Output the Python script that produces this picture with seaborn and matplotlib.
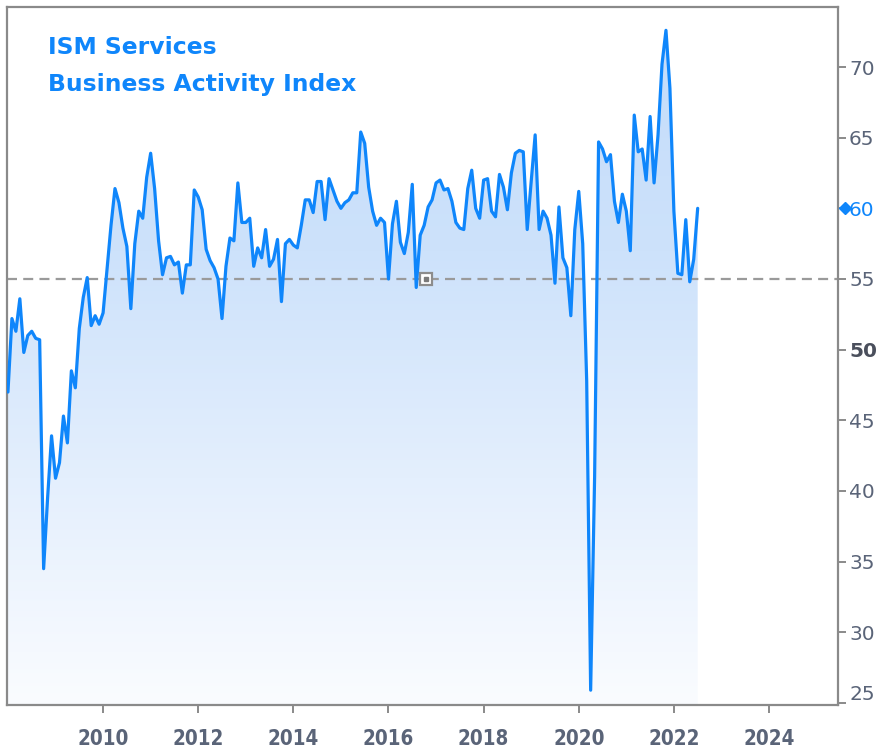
import numpy as np
import pandas as pd
import matplotlib
matplotlib.use("Agg")
import matplotlib.pyplot as plt
import seaborn as sns
from matplotlib.colors import LinearSegmentedColormap
from matplotlib import font_manager
from matplotlib.font_manager import FontProperties
from matplotlib.transforms import ScaledTranslation

# ---------------- data ----------------
values = [
    # 2008
    47.0, 52.2, 51.3, 53.6, 49.8, 51.0, 51.3, 50.8, 50.7, 34.5, 39.5, 43.9,
    # 2009
    40.9, 42.0, 45.3, 43.4, 48.5, 47.3, 51.5, 53.7, 55.1, 51.7, 52.4, 51.8,
    # 2010
    52.6, 55.7, 58.8, 61.4, 60.4, 58.6, 57.3, 52.9, 57.5, 59.8, 59.3, 62.2,
    # 2011
    63.9, 61.4, 57.7, 55.3, 56.5, 56.6, 56.0, 56.2, 54.0, 56.0, 56.0, 61.3,
    # 2012
    60.8, 59.9, 57.1, 56.3, 55.8, 55.0, 52.2, 55.9, 57.9, 57.7, 61.8, 59.0,
    # 2013
    59.0, 59.3, 55.9, 57.2, 56.5, 58.5, 55.9, 56.4, 57.8, 53.4, 57.5, 57.8,
    # 2014
    57.4, 57.2, 58.8, 60.6, 60.6, 59.7, 61.9, 61.9, 59.2, 62.1, 61.3, 60.5,
    # 2015
    60.0, 60.4, 60.6, 61.1, 61.1, 65.4, 64.6, 61.5, 59.8, 58.8, 59.3, 59.0,
    # 2016
    55.0, 58.9, 60.5, 57.6, 56.8, 58.3, 61.7, 54.4, 58.1, 58.8, 60.1, 60.6,
    # 2017
    61.8, 62.0, 61.3, 61.4, 60.5, 59.0, 58.6, 58.5, 61.4, 62.7, 60.0, 59.3,
    # 2018
    62.0, 62.1, 59.8, 59.4, 62.4, 61.5, 59.9, 62.5, 63.9, 64.1, 64.0, 58.5,
    # 2019
    61.9, 65.2, 58.5, 59.8, 59.3, 58.1, 54.7, 60.1, 56.5, 55.8, 52.4, 58.5,
    # 2020
    61.2, 57.5, 47.8, 25.9, 41.0, 64.7, 64.2, 63.3, 63.8, 60.5, 59.0, 61.0,
    # 2021
    59.8, 57.0, 66.6, 64.0, 64.2, 62.0, 66.5, 61.8, 65.2, 70.2, 72.6, 68.5,
    # 2022
    59.8, 55.4, 55.3, 59.2, 54.8, 56.4, 60.0,
]
dates = pd.date_range("2008-01-01", periods=len(values), freq="MS")
year_frac = dates.year + (dates.month - 1) / 12.0

x_ticks = [2010, 2012, 2014, 2016, 2018, 2020, 2022, 2024]
y_ticks = [25, 30, 35, 40, 45, 50, 55, 60, 65, 70]
reference_level = 55
title_lines = ["ISM Services", "Business Activity Index"]

df = pd.DataFrame({"year": year_frac, "value": values})

# ---------------- style ----------------
BLUE = "#0f86fb"
TICK_COLOR = "#5a6478"
SPINE = "#8a8a8a"

sns.set_style("white")
plt.rcParams["font.family"] = ["DejaVu Sans"]


def find_condensed_bold():
    for f in font_manager.fontManager.ttflist:
        name = f.name.lower()
        fname = f.fname.lower()
        narrow = ("narrow" in name or "condensed" in name or "condensed" in fname
                  or "narrow" in fname or str(f.stretch) in ("condensed", "semi-condensed", "extra-condensed"))
        boldish = str(f.weight) in ("bold", "700", "600", "semibold", "demibold") or "bold" in fname
        if narrow and boldish and "semicondensed" not in fname.replace("-", "").replace("_", ""):
            return f.fname
    for f in font_manager.fontManager.ttflist:
        fname = f.fname.lower()
        if ("condensed" in fname or "narrow" in fname) and "bold" in fname:
            return f.fname
    return None


cond = find_condensed_bold()
if cond is not None:
    xprops = FontProperties(fname=cond, size=14.8)
else:
    xprops = FontProperties(family=["Liberation Sans", "DejaVu Sans"], weight="bold", size=14.5)

fig = plt.figure(figsize=(8.88, 7.5), dpi=100)
ax = fig.add_axes([7 / 888, 45 / 750, 831 / 888, 698 / 750])

x_lo, x_hi = 2007.98, 2025.45
y_lo, y_hi = 24.85, 74.25

# gradient fill under the line
poly = ax.fill_between(df["year"], df["value"], y_lo, facecolor="none",
                       edgecolor="none")
cmap = LinearSegmentedColormap.from_list("g", ["#fafcff", "#e4effd", "#cde2fb", "#c4dcfa"])
grad = np.linspace(0, 1, 256).reshape(-1, 1)
im = ax.imshow(grad, extent=[x_lo, x_hi, y_lo, 73.0], origin="lower",
               cmap=cmap, aspect="auto", zorder=1, interpolation="bicubic")
im.set_clip_path(poly.get_paths()[0], transform=ax.transData)

# reference line
ax.axhline(reference_level, color="#9a9a9a", lw=1.6, dashes=(4.5, 2.8), zorder=2)

# main line
sns.lineplot(data=df, x="year", y="value", ax=ax, color=BLUE, lw=2.3,
             zorder=3, legend=False)

# anchor handle on reference line
handle_x = 2016.78
ax.plot([handle_x], [reference_level], marker="s", ms=9, mfc="white",
        mec="#8c8c8c", mew=1.6, zorder=4)
ax.plot([handle_x], [reference_level], marker="s", ms=3.5, mfc="#7a7a7a",
        mec="#7a7a7a", zorder=5)

ax.set_xlim(x_lo, x_hi)
ax.set_ylim(y_lo, y_hi)

# axes styling
for s in ax.spines.values():
    s.set_visible(True)
    s.set_color(SPINE)
    s.set_linewidth(1.6)

ax.yaxis.tick_right()
ax.yaxis.set_label_position("right")
ax.set_xlabel("")
ax.set_ylabel("")
ax.set_yticks(y_ticks, labels=[str(v) for v in y_ticks])
ax.set_xticks(x_ticks, labels=[str(v) for v in x_ticks])
ax.tick_params(axis="y", which="both", direction="out", length=6, width=1.4,
               color=SPINE, labelcolor=TICK_COLOR, labelsize=14.5, pad=2,
               right=True, left=False)
ax.tick_params(axis="x", which="both", direction="out", length=6, width=1.4,
               color=SPINE, labelcolor=TICK_COLOR, pad=11, bottom=True)
for lab in ax.get_xticklabels():
    lab.set_fontproperties(xprops)
last_val = values[-1]
for lab, v in zip(ax.get_yticklabels(), y_ticks):
    if v == 50:
        lab.set_fontweight("bold")
        lab.set_color("#4a4f5c")
    if v == round(last_val):
        lab.set_color(BLUE)
    if v == y_ticks[0]:
        lab.set_transform(lab.get_transform() +
                          ScaledTranslation(0, 10 / 100, fig.dpi_scale_trans))

# last value marker on the right axis
ax.plot([1.0085], [last_val], marker="D", ms=6, color=BLUE,
        transform=ax.get_yaxis_transform(), clip_on=False, zorder=6)

# title
fig.text(48 / 888, 1 - 48 / 750, title_lines[0], color=BLUE, fontsize=16.9,
         fontweight="bold", va="center", ha="left")
fig.text(48 / 888, 1 - 85 / 750, title_lines[1], color=BLUE, fontsize=16.9,
         fontweight="bold", va="center", ha="left")

fig.savefig("out.png", dpi=100)
